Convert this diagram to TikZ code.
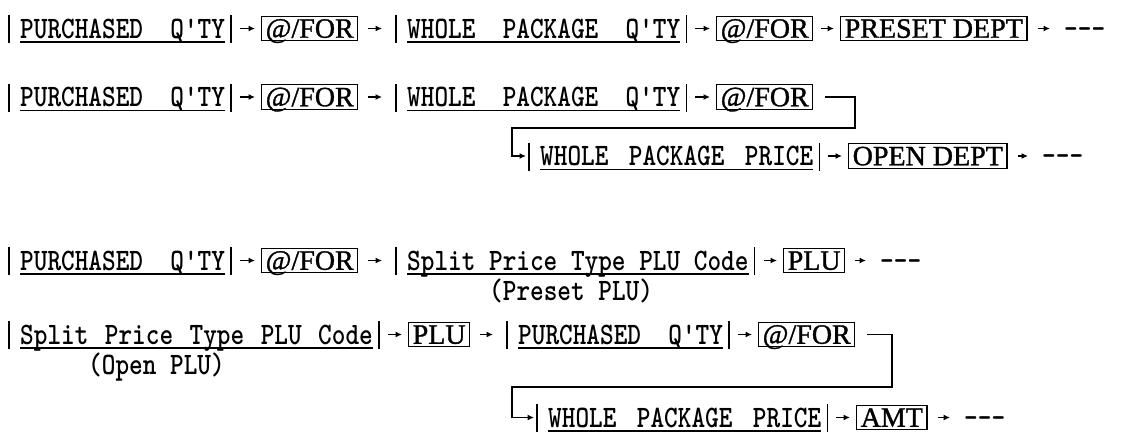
\documentclass[tikz,border=0pt]{standalone}
\usepackage{fontspec}
\usepackage{graphicx}
\usetikzlibrary{arrows.meta}
\newfontfamily\typew{lmmonolt10-bold.otf}
\newfontfamily\keyf[FakeBold=1.2]{Liberation Serif}
\newcommand\tw[1]{\scalebox{1}[1.2]{#1}}
\newcommand\gp[1]{\hspace{#1pt}}
\newcommand\ulab[1]{%
 \draw[vbar] ([xshift=-11pt,yshift=-5pt]#1.base west) -- ([xshift=-11pt,yshift=23pt]#1.base west);
 \draw[vbar] ([xshift=6pt,yshift=-5pt]#1.base east) -- ([xshift=6pt,yshift=23pt]#1.base east);
 \draw[uline] ([yshift=-4pt]#1.base west) -- ([yshift=-4pt]#1.base east);}
\begin{document}
\begin{tikzpicture}[x=1pt,y=-1pt,
  lbl/.style={font=\typew\fontsize{26}{30}\selectfont, inner sep=0pt, anchor=base west},
  keybox/.style={draw, line width=1.4pt, font=\keyf\fontsize{28}{32}\selectfont, inner xsep=4pt, inner ysep=3pt, text height=18.5pt, text depth=0pt, anchor=west},
  arr/.style={-{Latex[length=6.5pt,width=6pt]}, line width=1.2pt},
  conn/.style={line width=1.3pt},
  vbar/.style={line width=1.4pt},
  uline/.style={line width=1.4pt},
  l2b/.style={arr, shorten <=15pt, shorten >=6pt},
  b2l/.style={arr, shorten <=10pt, shorten >=25pt},
  b2b/.style={arr, shorten <=8pt, shorten >=6pt},
  b2d/.style={arr, shorten <=10pt, shorten >=14pt},
]
\fill[white] (0,0) rectangle (1126,436);
\useasboundingbox (0,0) rectangle (1126,436);

% ---------- Row 1
\node[lbl] (L11) at (20,38) {\tw{PURCHASED\ \ Q'TY}};
\node[keybox] (B11) at (261,28.5) {@/FOR};
\node[lbl] (L12) at (407,38) {\tw{WHOLE\ \ PACKAGE\ \ Q'TY}};
\node[keybox] (B12) at (716,28.5) {@/FOR};
\node[keybox] (B13) at (840,28.5) {PRESET DEPT};
\node[lbl] (D1) at (1064,38) {\tw{-{}-{}-}};
\ulab{L11}\ulab{L12}
\draw[l2b] ([yshift=9.5pt]L11.base east) -- (B11.west);
\draw[b2l] (B11.east) -- ([yshift=9.5pt]L12.base west);
\draw[l2b] ([yshift=9.5pt]L12.base east) -- (B12.west);
\draw[b2b] (B12.east) -- (B13.west);
\draw[b2d] (B13.east) -- ([yshift=9.5pt]D1.base west);

% ---------- Row 2
\node[lbl] (L21) at (20,106.5) {\tw{PURCHASED\ \ Q'TY}};
\node[keybox] (B21) at (261,97) {@/FOR};
\node[lbl] (L22) at (407,106.5) {\tw{WHOLE\ \ PACKAGE\ \ Q'TY}};
\node[keybox] (B22) at (716,97) {@/FOR};
\ulab{L21}\ulab{L22}
\draw[l2b] ([yshift=9.5pt]L21.base east) -- (B21.west);
\draw[b2l] (B21.east) -- ([yshift=9.5pt]L22.base west);
\draw[l2b] ([yshift=9.5pt]L22.base east) -- (B22.west);
\node[lbl] (L23) at (540,165.5) {\tw{WHOLE\gp{20.5}PACKAGE\gp{20.5}PRICE}};
\node[keybox] (B23) at (848,156) {OPEN DEPT};
\node[lbl] (D2) at (1042,165.5) {\tw{-{}-{}-}};
\ulab{L23}
\coordinate (c2a) at (855,97);
\coordinate (c2b) at (855,128);
\coordinate (c2c) at (512,128);
\coordinate (c2d) at (512,156);
\draw[arr, conn, shorten <=12pt, shorten >=14pt] (B22.east) -- (c2a) -- (c2b) -- (c2c) -- (c2d) -- ([yshift=9.5pt]L23.base west);
\draw[l2b] ([yshift=9.5pt]L23.base east) -- (B23.west);
\draw[b2d] (B23.east) -- ([yshift=9.5pt]D2.base west);

% ---------- Row 3
\node[lbl] (L31) at (20,270) {\tw{PURCHASED\ \ Q'TY}};
\node[keybox] (B31) at (261,260.5) {@/FOR};
\node[lbl] (L32) at (407,270) {\tw{Split\ Price\ Type\ PLU\ Code}};
\node[lbl] (S3) at (489,300) {\tw{(Preset\ PLU)}};
\node[keybox] (B32) at (783,260.5) {PLU};
\node[lbl] (D3) at (880,270) {\tw{-{}-{}-}};
\ulab{L31}\ulab{L32}
\draw[l2b] ([yshift=9.5pt]L31.base east) -- (B31.west);
\draw[b2l] (B31.east) -- ([yshift=9.5pt]L32.base west);
\draw[l2b] ([yshift=9.5pt]L32.base east) -- (B32.west);
\draw[b2d] (B32.east) -- ([yshift=9.5pt]D3.base west);

% ---------- Row 4
\node[lbl] (L41) at (20,344) {\tw{Split\gp{16.5}Price\gp{16.5}Type\gp{16.5}PLU\gp{16.5}Code}};
\node[lbl] (S4) at (88,374) {\tw{(Open\ PLU)}};
\node[keybox] (B41) at (408,334.5) {PLU};
\node[lbl] (L42) at (518,344) {\tw{PURCHASED\ \ Q'TY}};
\node[keybox] (B42) at (758,334.5) {@/FOR};
\ulab{L41}\ulab{L42}
\draw[l2b] ([yshift=9.5pt]L41.base east) -- (B41.west);
\draw[b2l] (B41.east) -- ([yshift=9.5pt]L42.base west);
\draw[l2b] ([yshift=9.5pt]L42.base east) -- (B42.west);
\node[lbl] (L43) at (548,427) {\tw{WHOLE\gp{20.5}PACKAGE\gp{20.5}PRICE}};
\node[keybox] (B43) at (856,417.5) {AMT};
\node[lbl] (D4) at (964,427) {\tw{-{}-{}-}};
\ulab{L43}
\coordinate (c4a) at (892,334.5);
\coordinate (c4b) at (892,387);
\coordinate (c4c) at (512,387);
\coordinate (c4d) at (512,417.5);
\draw[arr, conn, shorten <=12pt, shorten >=14pt] (B42.east) -- (c4a) -- (c4b) -- (c4c) -- (c4d) -- ([yshift=9.5pt]L43.base west);
\draw[l2b] ([yshift=9.5pt]L43.base east) -- (B43.west);
\draw[b2d] (B43.east) -- ([yshift=9.5pt]D4.base west);
\end{tikzpicture}
\end{document}
